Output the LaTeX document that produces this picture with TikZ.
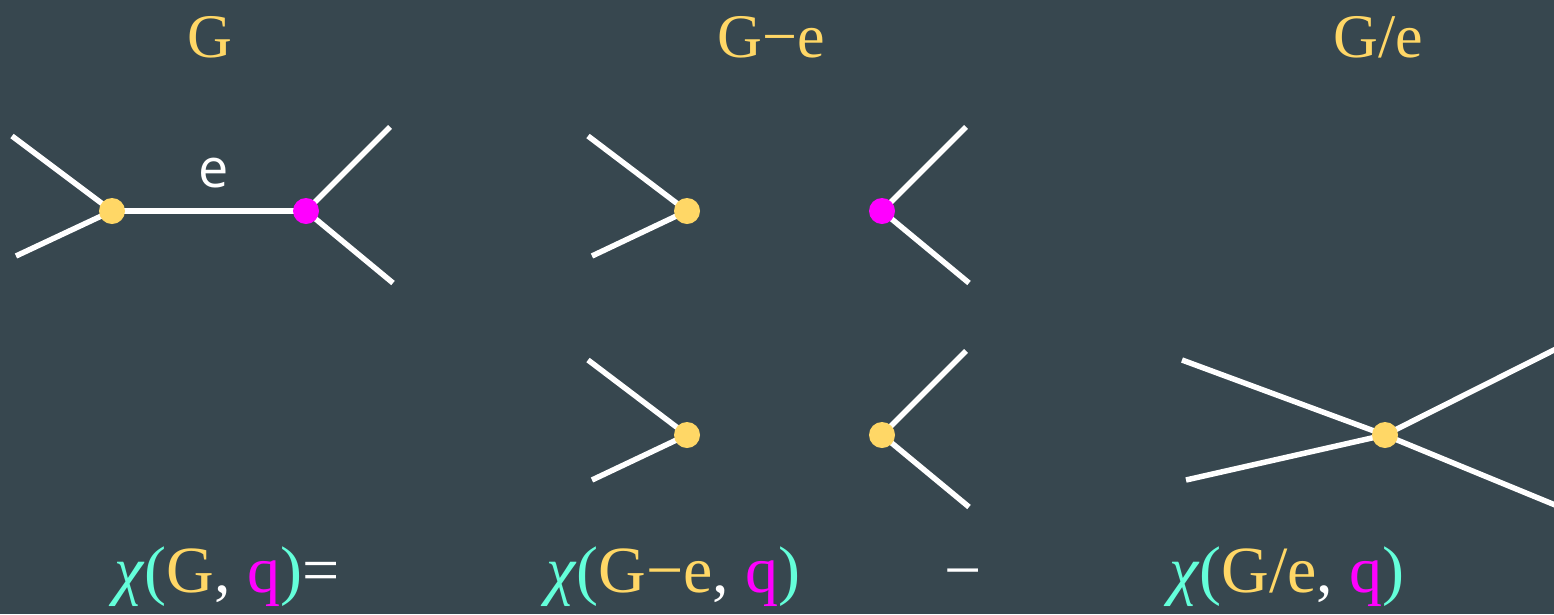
\documentclass[tikz,border=0pt]{standalone}
\usepackage{fontspec}
\setmainfont{Liberation Serif}
\newfontfamily\labsans{Open Sans}
\definecolor{bgc}{RGB}{55,71,79}
\definecolor{ylw}{RGB}{255,215,102}
\definecolor{mgt}{RGB}{255,0,255}
\definecolor{cyn}{RGB}{100,255,218}
\tikzset{
  edge/.style={draw=white,line width=5.5pt},
  ydot/.style={circle,fill=ylw,inner sep=0pt,minimum size=26pt},
  mdot/.style={circle,fill=mgt,inner sep=0pt,minimum size=26pt},
  ttl/.style={font=\fontsize{62}{62}\selectfont,text=ylw,inner sep=0pt,anchor=base},
  formula/.style={font=\fontsize{66}{66}\selectfont,inner sep=0pt,anchor=base west}
}
\begin{document}
\begin{tikzpicture}[x=1pt,y=-1pt]
\fill[bgc] (0,0) rectangle (1554,614);
\useasboundingbox (0,0) rectangle (1554,614);
% titles
\node[ttl] (tG) at (210,57) {G};
\node[ttl] (tGe) at (771,57) {G−e};
\node[ttl] (tGc) at (1378,57) {G/e};
% graph G
\coordinate (a1) at (12,136);
\coordinate (a2) at (16,256);
\coordinate (a3) at (390,127);
\coordinate (a4) at (393,283);
\coordinate (uc) at (112,211);
\coordinate (vc) at (306,211);
\draw[edge] (a1) -- (uc);
\draw[edge] (a2) -- (uc);
\draw[edge] (vc) -- (a3);
\draw[edge] (vc) -- (a4);
\draw[edge] (uc) -- (vc);
\node[ydot] (u) at (uc) {};
\node[mdot] (v) at (vc) {};
\node[font=\labsans\fontsize{54}{54}\selectfont,text=white,inner sep=0pt,anchor=base] (elab) at (214,187) {e};
% G-e top
\coordinate (b1) at (588,136);
\coordinate (b2) at (592,256);
\coordinate (b3) at (966,127);
\coordinate (b4) at (969,283);
\coordinate (pc) at (687,211);
\coordinate (rc) at (882,211);
\draw[edge] (b1) -- (pc);
\draw[edge] (b2) -- (pc);
\draw[edge] (rc) -- (b3);
\draw[edge] (rc) -- (b4);
\node[ydot] (p) at (pc) {};
\node[mdot] (r) at (rc) {};
% G-e bottom
\coordinate (c1) at (588,360);
\coordinate (c2) at (592,480);
\coordinate (c3) at (966,351);
\coordinate (c4) at (969,507);
\coordinate (sc) at (687,435);
\coordinate (tc) at (882,435);
\draw[edge] (c1) -- (sc);
\draw[edge] (c2) -- (sc);
\draw[edge] (tc) -- (c3);
\draw[edge] (tc) -- (c4);
\node[ydot] (s) at (sc) {};
\node[ydot] (t) at (tc) {};
% G/e
\coordinate (d1) at (1182,360);
\coordinate (d2) at (1186,480);
\coordinate (d3) at (1560,347);
\coordinate (d4) at (1560,507);
\coordinate (wc) at (1385,435);
\draw[edge] (d1) -- (wc);
\draw[edge] (d2) -- (wc);
\draw[edge] (wc) -- (d3);
\draw[edge] (wc) -- (d4);
\node[ydot] (w) at (wc) {};
% formulas
\node[formula] (f1) at (114,592) {\textcolor{cyn}{\textit{χ}(}\textcolor{ylw}{G}\textcolor{white}{,} \textcolor{mgt}{q}\textcolor{cyn}{)}\textcolor{white}{=}};
\node[formula] (f2) at (546,592) {\textcolor{cyn}{\textit{χ}(}\textcolor{ylw}{G−e}\textcolor{white}{,} \textcolor{mgt}{q}\textcolor{cyn}{)}};
\node[font=\fontsize{66}{66}\selectfont,text=white,inner sep=0pt,anchor=base] (minus) at (963,592) {−};
\node[formula] (f3) at (1169,592) {\textcolor{cyn}{\textit{χ}(}\textcolor{ylw}{G/e}\textcolor{white}{,} \textcolor{mgt}{q}\textcolor{cyn}{)}};
\end{tikzpicture}
\end{document}
